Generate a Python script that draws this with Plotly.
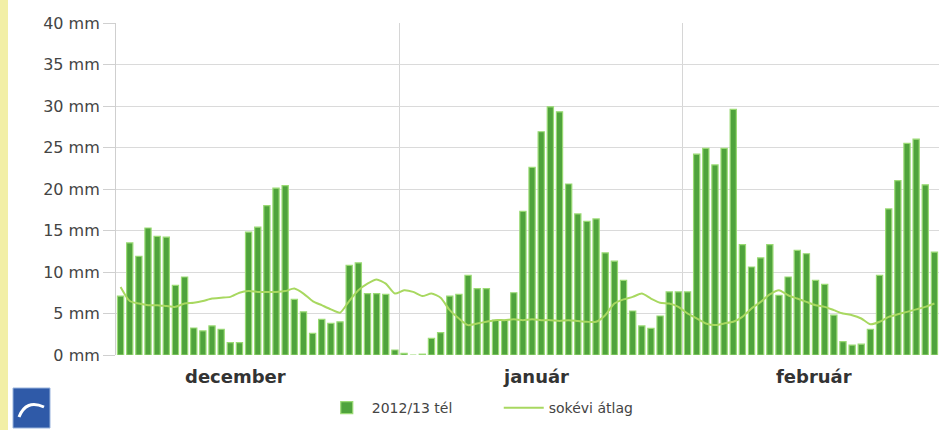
import plotly.graph_objects as go

months = ["december", "január", "február"]
month_lengths = [31, 31, 28]

dec_2012 = [7.1, 13.5, 11.9, 15.3, 14.3, 14.2, 8.4, 9.4, 3.25, 2.9, 3.5, 3.1, 1.5, 1.5,
            14.8, 15.4, 18.0, 20.1, 20.4, 6.7, 5.2, 2.6, 4.3, 3.8, 4.0, 10.8, 11.1,
            7.4, 7.4, 7.3, 0.6]
jan_2013 = [0.2, 0.0, 0.1, 2.0, 2.7, 7.1, 7.3, 9.6, 8.0, 8.0, 4.2, 4.2, 7.5, 17.3, 22.6,
            26.9, 29.9, 29.3, 20.6, 17.0, 16.1, 16.4, 12.3, 11.3, 9.0, 5.3, 3.5, 3.2,
            4.7, 7.6, 7.6]
feb_2013 = [7.6, 24.2, 24.9, 22.9, 24.9, 29.6, 13.3, 10.6, 11.7, 13.3, 7.2, 9.4, 12.6,
            12.2, 9.0, 8.5, 4.8, 1.6, 1.2, 1.3, 3.1, 9.6, 17.6, 21.0, 25.5, 26.0,
            20.5, 12.4]

dec_avg = [8.2, 6.5, 6.2, 6.0, 6.0, 5.9, 5.8, 6.2, 6.3, 6.5, 6.8, 6.9, 7.0, 7.5, 7.7,
           7.6, 7.6, 7.6, 7.7, 8.0, 7.4, 6.5, 6.0, 5.5, 5.1, 6.5, 7.8, 8.6, 9.1, 8.6, 7.4]
jan_avg = [7.8, 7.6, 7.1, 7.4, 6.9, 5.4, 4.4, 3.6, 3.8, 4.0, 4.2, 4.2, 4.3, 4.2, 4.3,
           4.2, 4.2, 4.1, 4.2, 4.1, 4.0, 4.0, 4.8, 6.2, 6.7, 7.0, 7.4, 6.8, 6.3, 6.2, 5.8]
feb_avg = [5.0, 4.4, 3.8, 3.6, 3.8, 4.0, 4.6, 5.6, 6.4, 7.3, 7.8, 7.2, 6.8, 6.4, 6.0,
           5.8, 5.4, 5.0, 4.8, 4.4, 3.7, 4.0, 4.6, 4.9, 5.2, 5.5, 5.8, 6.2]

y_ticks = [0, 5, 10, 15, 20, 25, 30, 35, 40]
y_tick_labels = ["%d mm" % v for v in y_ticks]
series_names = ["2012/13 tél", "sokévi átlag"]

winter = dec_2012 + jan_2013 + feb_2013
average = dec_avg + jan_avg + feb_avg
days = list(range(len(winter)))

# month boundaries and label positions (day index)
bounds = []
acc = 0
for n in month_lengths[:-1]:
    acc += n
    bounds.append(acc - 0.5)
label_pos = [12.6, 45.4, 75.8]

fig = go.Figure()
fig.add_trace(go.Bar(
    x=days, y=winter, name=series_names[0],
    marker=dict(color="#4fa33c", line=dict(color="#9ada74", width=1.2)),
    width=0.68,
))
fig.add_trace(go.Scatter(
    x=days, y=average, name=series_names[1], mode="lines",
    line=dict(color="#a8d860", width=2, shape="spline", smoothing=0.6),
))

FONT = "DejaVu Sans, Liberation Sans, Arial, sans-serif"

annotations = []
for m, p in zip(months, label_pos):
    annotations.append(dict(
        x=p, y=-0.065, xref="x", yref="paper", text="<b>%s</b>" % m,
        showarrow=False, font=dict(family=FONT, size=18, color="#333333"),
        xanchor="center", yanchor="middle",
    ))

shapes = [
    # light yellow strip at left edge
    dict(type="rect", xref="paper", yref="paper",
         x0=-116 / 823, x1=-108 / 823, y0=-75 / 332, y1=1 + 23 / 332,
         fillcolor="#f2efa6", line=dict(width=0), layer="below"),
    # logo
    dict(type="rect", xref="paper", yref="paper",
         x0=-103 / 823, x1=-66 / 823, y0=-73 / 332, y1=-33 / 332,
         fillcolor="#2f5aa8", line=dict(color="#9ab4dd", width=1)),
    dict(type="path", xref="paper", yref="paper",
         path="M %f %f Q %f %f %f %f" % (-97 / 823, -62 / 332, -90 / 823, -44 / 332,
                                         -72 / 823, -52 / 332),
         line=dict(color="white", width=3)),
]

fig.update_layout(
    width=939, height=430,
    margin=dict(l=116, r=0, t=23, b=75),
    paper_bgcolor="white", plot_bgcolor="white",
    bargap=0.3,
    showlegend=True,
    legend=dict(orientation="h", x=0.25, y=-0.16, xanchor="left", yanchor="middle",
                font=dict(family=FONT, size=14, color="#444444"),
                bgcolor="rgba(0,0,0,0)", itemwidth=40, traceorder="normal",
                entrywidth=122, entrywidthmode="pixels"),
    xaxis=dict(range=[-0.5, len(winter) - 0.5], tickvals=bounds, showticklabels=False,
               showgrid=True, gridcolor="#d6d6d6", gridwidth=1, zeroline=False,
               ticks="", showline=False, fixedrange=True),
    yaxis=dict(range=[0, 40], tickvals=y_ticks, ticktext=y_tick_labels,
               showgrid=True, gridcolor="#dadada", gridwidth=1, zeroline=False,
               ticks="outside", ticklen=12, tickcolor="#d0d0d0",
               showline=True, linecolor="#cfcfcf", linewidth=1,
               tickfont=dict(family=FONT, size=16, color="#444444")),
    annotations=annotations,
    shapes=shapes,
)

fig.write_html("out.html", config={"displayModeBar": False},
               post_script="document.body.style.margin='0';document.body.style.overflow='hidden';")
